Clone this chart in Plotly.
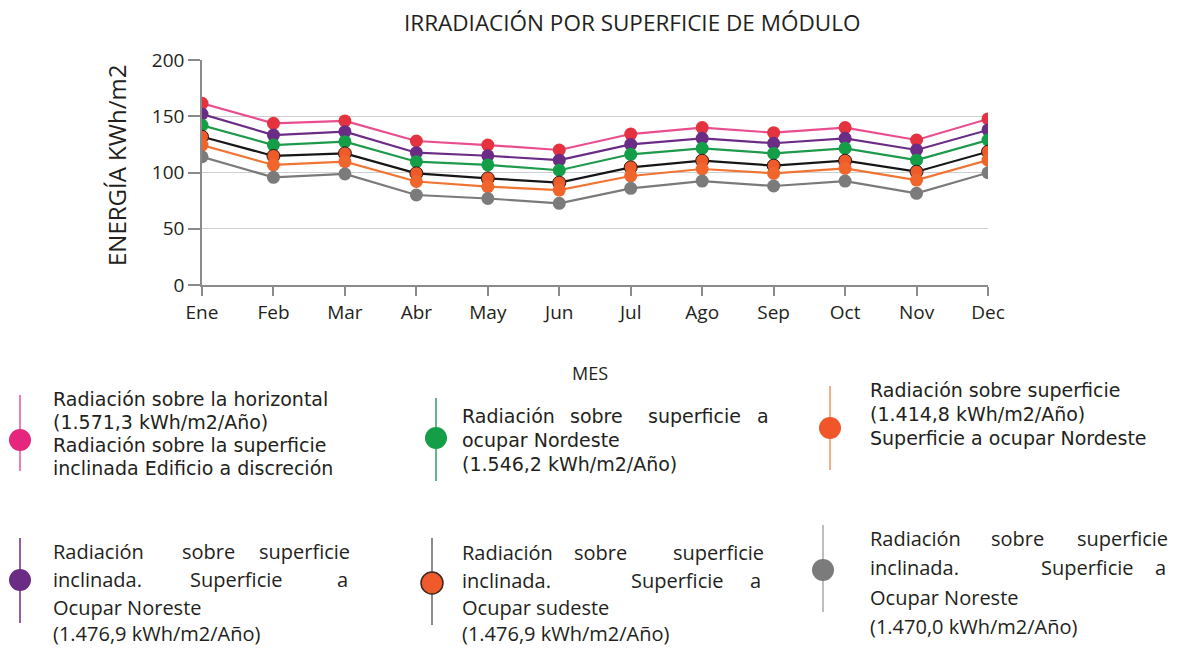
import plotly.graph_objects as go

# ---------------- data ----------------
months = ["Ene", "Feb", "Mar", "Abr", "May", "Jun", "Jul", "Ago", "Sep", "Oct", "Nov", "Dec"]

horizontal = [161.5, 143.7, 145.8, 128.0, 124.4, 120.0, 134.2, 139.9, 135.4, 139.9, 128.9, 147.6]
noreste_inclinada = [152.0, 133.3, 136.3, 117.6, 114.9, 111.0, 125.0, 130.4, 126.0, 130.4, 120.0, 137.8]
nordeste = [142.0, 124.4, 127.4, 109.6, 106.7, 102.0, 116.2, 121.5, 117.0, 121.5, 111.0, 128.9]
sudeste_inclinada = [131.8, 114.7, 117.0, 99.3, 94.8, 91.0, 104.6, 110.5, 106.1, 110.5, 100.7, 118.5]
superficie_nordeste = [124.4, 106.7, 109.6, 92.0, 87.4, 84.4, 96.9, 103.1, 99.3, 103.7, 93.3, 111.0]
noreste_inclinada_2 = [114.0, 95.7, 98.7, 80.0, 76.9, 72.6, 85.9, 92.4, 88.0, 92.4, 81.5, 99.8]

y_ticks = [0, 50, 100, 150, 200]

FONT = "Open Sans"
FONT_L1 = "DejaVu Sans"
TXT = "#231f20"

# the page places the figure 8px from the window's edges (body margin)
OFF = 8
W, H = 1180 - 2 * OFF, 655 - 2 * OFF
# plot area in window pixels
L, R, T, B = 202, 988, 60, 285


def px(x):
    return (x - L) / (R - L)


def py(y):
    return (B - y) / (B - T)


fig = go.Figure()

series = [
    (horizontal, "#ea4d8e", "#e5323f", "#e5323f", 0),
    (noreste_inclinada, "#6b2c86", "#6b2c86", "#6b2c86", 0),
    (nordeste, "#1e9a4c", "#149e48", "#149e48", 0),
    (sudeste_inclinada, "#161616", "#ee5a2a", "#2a1a14", 1),
    (superficie_nordeste, "#f07534", "#f0652c", "#f0652c", 0),
    (noreste_inclinada_2, "#7a7a7a", "#7b7b7b", "#7b7b7b", 0),
]
names = [
    "Radiación sobre la horizontal",
    "Radiación sobre superficie inclinada. Superficie a Ocupar Noreste",
    "Radiación sobre superficie a ocupar Nordeste",
    "Radiación sobre superficie inclinada. Superficie a Ocupar sudeste",
    "Radiación sobre superficie. Superficie a ocupar Nordeste",
    "Radiación sobre superficie inclinada. Superficie a Ocupar Noreste (1.470,0)",
]
for (vals, lc, mc, mlc, mlw), nm in zip(series, names):
    fig.add_trace(go.Scatter(
        x=months, y=vals, mode="lines+markers", name=nm, showlegend=False,
        line=dict(color=lc, width=2.2),
        marker=dict(size=13, color=mc, line=dict(color=mlc, width=mlw)),
    ))

fig.update_layout(
    width=W, height=H,
    margin=dict(l=L - OFF, r=W - (R - OFF), t=T - OFF, b=H - (B - OFF)),
    paper_bgcolor="white", plot_bgcolor="white",
    font=dict(family=FONT, color=TXT),
    xaxis=dict(
        type="category", range=[0, len(months) - 1],
        showgrid=False, showline=True, linecolor="#8a8a8a", linewidth=1.5,
        ticks="outside", ticklen=9, tickcolor="#8a8a8a", tickwidth=1.5,
        tickfont=dict(size=19, color=TXT, family=FONT),
    ),
    yaxis=dict(
        range=[0, 200], tickvals=y_ticks,
        showgrid=True, gridcolor="#cfcfcf", gridwidth=1, zeroline=False,
        showline=True, linecolor="#8a8a8a", linewidth=1.5,
        ticks="outside", ticklen=12, tickcolor="#8a8a8a", tickwidth=1.5,
        tickfont=dict(size=19, color=TXT, family=FONT),
    ),
)

ann = []


def text(x, y, s, size, anchor="left", family=FONT):
    ann.append(dict(x=px(x), y=py(y), xref="paper", yref="paper", text=s,
                    showarrow=False, xanchor=anchor, yanchor="middle",
                    font=dict(size=size, family=family, color=TXT)))


# title & axis titles
text(632, 22, "IRRADIACIÓN POR SUPERFICIE DE MÓDULO", 22.5, "center")
text(590, 373, "MES", 18, "center")
ann.append(dict(x=px(116), y=py(166), xref="paper", yref="paper", text="ENERGÍA KWh/m2",
                showarrow=False, textangle=-90, xanchor="center", yanchor="middle",
                font=dict(size=24, family=FONT, color=TXT)))

shapes = []


def icon(x, y0, y1, yc, line_color, fill, outline=None, r=11):
    shapes.append(dict(type="line", xref="paper", yref="paper",
                       x0=px(x), x1=px(x), y0=py(y0), y1=py(y1),
                       line=dict(color=line_color, width=1.5)))
    shapes.append(dict(type="circle", xref="paper", yref="paper",
                       x0=px(x - r), x1=px(x + r), y0=py(yc + r), y1=py(yc - r),
                       fillcolor=fill,
                       line=dict(color=outline if outline else fill, width=1.5 if outline else 0)))


def justified(y, words, x0, x1, size, mids=None, family=FONT):
    text(x0, y, words[0], size, "left", family)
    text(x1, y, words[-1], size, "right", family)
    if mids:
        for w, xc in zip(words[1:-1], mids):
            text(xc, y, w, size, "center", family)


# ---- legend row 1 ----
S1 = 19
icon(20, 395, 471, 440, "#e8559a", "#e5267c")
for yy, s in zip([399, 422, 445, 468], ["Radiación sobre la horizontal", "(1.571,3 kWh/m2/Año)",
                                       "Radiación sobre la superficie", "inclinada Edificio a discreción"]):
    text(51, yy, s, S1, family=FONT_L1)

icon(436, 398, 481, 438, "#2aa05a", "#149e48")
justified(416, ["Radiación", "sobre", "superficie", "a"], 460, 771, S1, [596, 694], FONT_L1)
text(460, 440, "ocupar Nordeste", S1, family=FONT_L1)
text(460, 464, "(1.546,2 kWh/m2/Año)", S1, family=FONT_L1)

icon(830, 386, 470, 428, "#f0946a", "#f0562a")
for yy, s in zip([390, 414, 438], ["Radiación sobre superficie", "(1.414,8 kWh/m2/Año)",
                                  "Superficie a ocupar Nordeste"]):
    text(868, yy, s, S1, family=FONT_L1)

# ---- legend row 2 ----
S2 = 20
icon(20, 538, 623, 580, "#6b2c86", "#6b2c86")
justified(551, ["Radiación", "sobre", "superficie"], 51, 352, S2, [208])
justified(579, ["inclinada.", "Superficie", "a"], 51, 350, S2, [236])
text(51, 607, "Ocupar Noreste", S2)
text(51, 633, "(1.476,9 kWh/m2/Año)", S2)

icon(432, 538, 625, 583, "#666666", "#ee5a2a", "#3a2a22")
justified(552, ["Radiación", "sobre", "superficie"], 460, 766, S2, [600])
justified(580, ["inclinada.", "Superficie", "a"], 460, 763, S2, [677])
text(460, 607, "Ocupar sudeste", S2)
text(460, 633, "(1.476,9 kWh/m2/Año)", S2)

icon(823, 525, 612, 570, "#a8a8a8", "#7b7b7b")
justified(538, ["Radiación", "sobre", "superficie"], 868, 1170, S2, [1017])
justified(567, ["inclinada.", "Superficie", "a"], 868, 1168, S2, [1087])
text(868, 597, "Ocupar Noreste", S2)
text(868, 626, "(1.470,0 kWh/m2/Año)", S2)

fig.update_layout(annotations=ann, shapes=shapes)

fig.write_html("out.html")
